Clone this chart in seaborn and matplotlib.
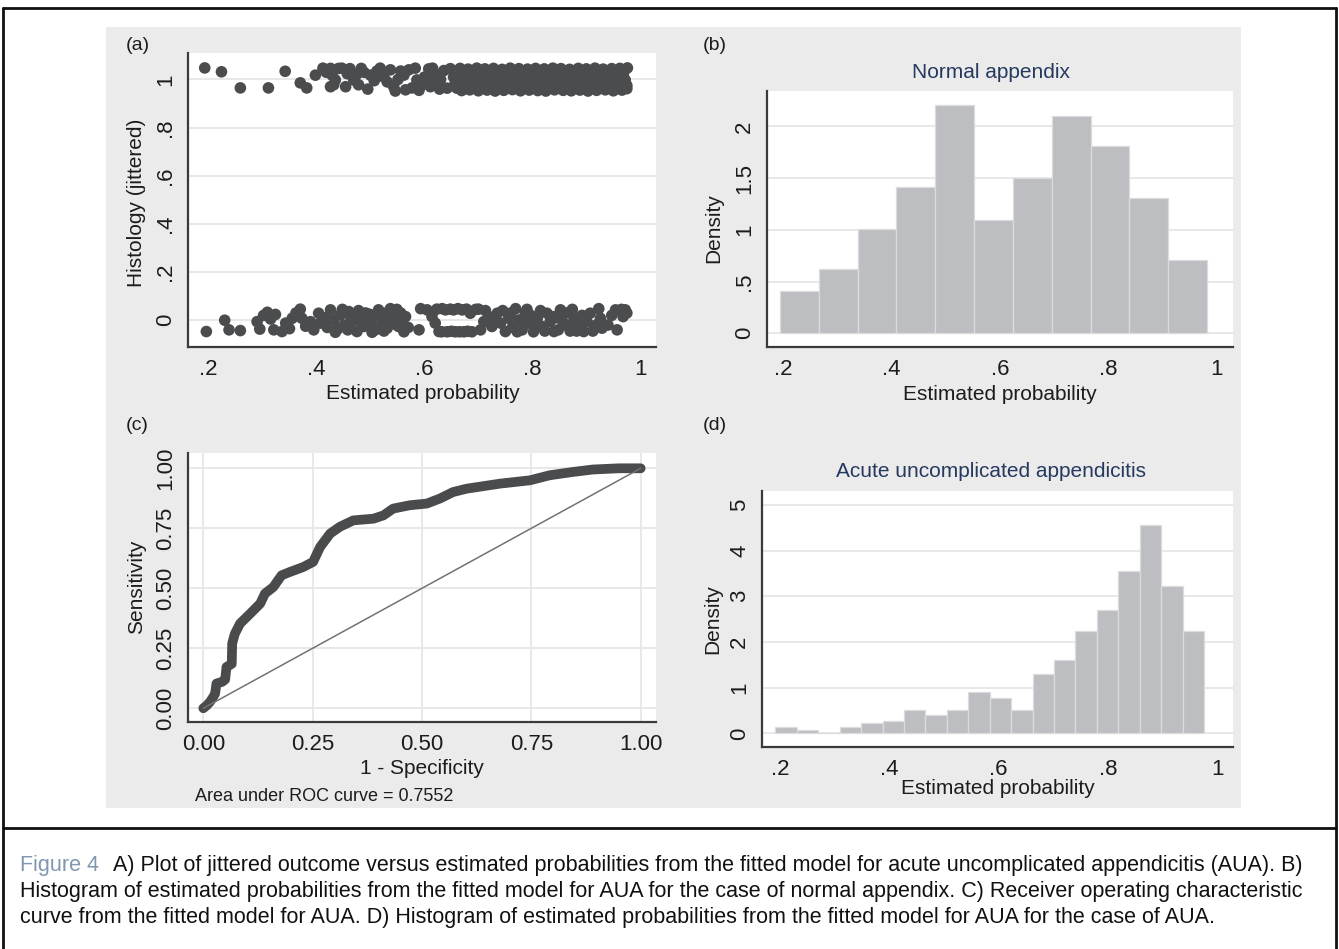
import numpy as np
import pandas as pd
import matplotlib
matplotlib.use('Agg')
import matplotlib.pyplot as plt
import seaborn as sns
from matplotlib.patches import Rectangle
from matplotlib.lines import Line2D

# ---- data ----
# (a) jittered outcome vs estimated probability, outcome = 1
top_x = [0.193, 0.224, 0.259, 0.311, 0.342, 0.370, 0.382, 0.398,
         0.412, 0.426, 0.441, 0.429, 0.435, 0.426, 0.432, 0.454, 0.457, 0.469, 0.488, 0.500,
         0.478, 0.512, 0.525, 0.531, 0.543, 0.546, 0.556, 0.562, 0.565, 0.577, 0.586, 0.596,
         0.608, 0.608, 0.611, 0.620, 0.623, 0.636, 0.642, 0.654, 0.660,
         0.418, 0.447, 0.462, 0.474, 0.483, 0.495, 0.507, 0.518, 0.537, 0.551, 0.571, 0.583,
         0.600, 0.615, 0.630, 0.648, 0.657, 0.628, 0.590,
         0.666, 0.681, 0.697, 0.712, 0.728, 0.744, 0.759, 0.775, 0.791, 0.806, 0.822, 0.838,
         0.853, 0.869, 0.885, 0.900, 0.916, 0.931, 0.947, 0.962, 0.976,
         0.672, 0.688, 0.703, 0.719, 0.735, 0.750, 0.766, 0.782, 0.797, 0.813, 0.829, 0.844,
         0.860, 0.876, 0.891, 0.907, 0.922, 0.938, 0.954, 0.969,
         0.674, 0.692, 0.708, 0.724, 0.739, 0.755, 0.770, 0.786, 0.801, 0.817, 0.833, 0.848,
         0.864, 0.880, 0.895, 0.911, 0.926, 0.942, 0.957, 0.972,
         0.664, 0.679, 0.695, 0.710, 0.726, 0.742, 0.757, 0.773, 0.789, 0.804, 0.820, 0.835,
         0.851, 0.867, 0.882, 0.898, 0.913, 0.929, 0.945, 0.960, 0.975,
         0.669, 0.684, 0.700, 0.716, 0.731, 0.747, 0.763, 0.778, 0.794, 0.810, 0.825, 0.841,
         0.857, 0.872, 0.888, 0.903, 0.919, 0.935, 0.950, 0.966, 0.975]
top_y = [1.048, 1.032, 0.965, 0.965, 1.034, 0.986, 0.965, 1.018,
         1.047, 1.046, 1.046, 1.018, 0.998, 0.970, 0.978, 0.970, 1.024, 0.998, 1.030, 1.018,
         0.978, 1.035, 1.010, 0.990, 0.970, 0.952, 1.035, 1.018, 0.957, 0.965, 0.998, 0.978,
         1.044, 1.005, 0.970, 1.024, 0.984, 1.037, 0.964, 1.010, 0.964,
         1.030, 1.047, 1.045, 1.020, 1.046, 0.960, 0.995, 1.047, 1.040, 1.000, 1.040, 1.047,
         1.010, 1.047, 1.000, 1.045, 0.985, 0.960, 0.955,
         1.046, 1.043, 1.047, 1.044, 1.046, 1.042, 1.047, 1.045, 1.043, 1.046, 1.044, 1.047,
         1.045, 1.042, 1.046, 1.044, 1.047, 1.043, 1.045, 1.046, 1.048,
         1.022, 1.026, 1.024, 1.020, 1.027, 1.023, 1.025, 1.021, 1.024, 1.026, 1.022, 1.024,
         1.027, 1.021, 1.025, 1.023, 1.026, 1.020, 1.024, 1.027,
         1.000, 0.998, 1.002, 0.999, 1.001, 0.997, 1.003, 1.000, 0.998, 1.002, 1.000, 0.999,
         1.001, 0.998, 1.003, 1.000, 0.999, 1.002, 1.000, 0.998,
         0.977, 0.980, 0.975, 0.978, 0.981, 0.976, 0.978, 0.979, 0.974, 0.978, 0.977, 0.981,
         0.976, 0.979, 0.975, 0.980, 0.978, 0.976, 0.980, 0.977, 0.975,
         0.954, 0.957, 0.953, 0.956, 0.952, 0.955, 0.958, 0.953, 0.956, 0.954, 0.952, 0.957,
         0.955, 0.953, 0.956, 0.952, 0.955, 0.957, 0.953, 0.956, 0.962]

# outcome = 0
bot_x = [0.196, 0.230, 0.238, 0.259, 0.290, 0.295, 0.309, 0.321, 0.324, 0.336, 0.343, 0.355,
         0.370, 0.373, 0.389, 0.395, 0.404, 0.407, 0.426, 0.432, 0.435, 0.444, 0.451, 0.460,
         0.466, 0.475, 0.481, 0.488, 0.494, 0.503, 0.506, 0.515, 0.522, 0.528, 0.531, 0.537,
         0.540, 0.546, 0.552, 0.559, 0.562, 0.512, 0.498, 0.470, 0.590, 0.593, 0.605, 0.614,
         0.620, 0.627, 0.623, 0.639, 0.642, 0.654, 0.657, 0.670, 0.673, 0.685, 0.688, 0.700,
         0.704, 0.710, 0.719, 0.725, 0.735, 0.741, 0.750, 0.756, 0.769, 0.775, 0.781, 0.787,
         0.793, 0.802, 0.809, 0.818, 0.827, 0.833, 0.840, 0.852, 0.858, 0.867, 0.877, 0.886,
         0.895, 0.901, 0.907, 0.923, 0.926, 0.929, 0.954, 0.957, 0.972, 0.975, 0.763, 0.797,
         0.846, 0.870, 0.918,
         0.415, 0.420, 0.440, 0.448, 0.458, 0.463, 0.478, 0.484, 0.491, 0.500, 0.509, 0.518,
         0.525, 0.534, 0.543, 0.549, 0.556, 0.565, 0.570, 0.380, 0.362, 0.350, 0.315, 0.302,
         0.633, 0.648, 0.662, 0.678, 0.632, 0.650, 0.665, 0.680, 0.695, 0.713, 0.730, 0.745,
         0.760, 0.772, 0.790, 0.805, 0.815, 0.823, 0.838, 0.848, 0.862, 0.874, 0.882, 0.892,
         0.912, 0.940, 0.947, 0.965, 0.968]
bot_y = [-0.047, 0.000, -0.040, -0.043, -0.006, -0.037, 0.033, -0.040, 0.024, -0.047, -0.012, 0.008,
         0.046, 0.008, -0.006, -0.040, 0.029, -0.012, 0.043, 0.001, -0.050, 0.022, -0.020, 0.036,
         -0.006, -0.047, 0.008, -0.026, 0.001, -0.050, 0.015, 0.043, -0.006, 0.029, -0.033, 0.048,
         0.001, 0.036, -0.026, 0.001, -0.048, -0.030, 0.025, 0.020, -0.040, 0.048, 0.043, 0.015,
         -0.012, -0.047, 0.046, 0.043, -0.048, 0.043, -0.048, 0.043, -0.048, 0.029, -0.048, 0.046,
         -0.040, -0.006, 0.015, -0.026, 0.029, -0.012, -0.047, 0.008, 0.048, 0.001, -0.040, 0.029,
         -0.012, -0.048, 0.008, -0.026, 0.029, -0.006, -0.047, 0.043, -0.012, -0.026, 0.008, -0.020,
         -0.047, -0.006, 0.029, 0.048, 0.008, -0.033, 0.043, -0.040, 0.043, 0.030, -0.030, 0.020,
         0.010, -0.045, -0.020,
         0.010, -0.030, -0.035, 0.045, -0.040, 0.015, 0.040, -0.012, 0.030, -0.015, -0.040, 0.020,
         -0.045, 0.010, -0.015, 0.045, 0.030, 0.015, -0.030, -0.025, 0.030, -0.035, 0.005, 0.020,
         0.048, 0.046, 0.048, 0.046, -0.048, -0.046, -0.048, -0.046, 0.045, 0.040, 0.000, 0.040,
         0.030, -0.048, 0.045, -0.030, 0.040, -0.045, 0.015, -0.040, 0.030, 0.045, -0.045, 0.020,
         -0.045, -0.020, 0.020, 0.045, 0.015]

# (b) histogram, normal appendix (density per bin)
normal_range = (0.194, 0.982)
normal_density = [0.41, 0.62, 1.01, 1.41, 2.21, 1.10, 1.50, 2.10, 1.81, 1.31, 0.71]

# (c) ROC curve
roc_fpr = [0.0, 0.008, 0.015, 0.022, 0.027, 0.030, 0.043, 0.050, 0.053, 0.065, 0.066, 0.072,
           0.084, 0.107, 0.130, 0.141, 0.160, 0.179, 0.198, 0.229, 0.251, 0.267, 0.290, 0.312,
           0.343, 0.389, 0.412, 0.434, 0.472, 0.511, 0.541, 0.571, 0.602, 0.678, 0.747, 0.792,
           0.846, 0.891, 0.950, 1.0]
roc_tpr = [0.0, 0.012, 0.026, 0.045, 0.061, 0.103, 0.110, 0.120, 0.172, 0.185, 0.270, 0.310,
           0.353, 0.394, 0.436, 0.478, 0.505, 0.554, 0.568, 0.589, 0.610, 0.672, 0.728, 0.756,
           0.783, 0.790, 0.804, 0.832, 0.846, 0.853, 0.874, 0.901, 0.915, 0.936, 0.950, 0.971,
           0.985, 0.995, 1.0, 1.0]
auc_text = 'Area under ROC curve = 0.7552'

# (d) histogram, acute uncomplicated appendicitis
aua_range = (0.192, 0.976)
aua_density = [0.15, 0.07, 0.0, 0.14, 0.22, 0.28, 0.52, 0.41, 0.52, 0.90,
               0.77, 0.51, 1.29, 1.61, 2.25, 2.69, 3.55, 4.56, 3.22, 2.24]

caption = [
    'A) Plot of jittered outcome versus estimated probabilities from the fitted model for acute uncomplicated appendicitis (AUA). B)',
    'Histogram of estimated probabilities from the fitted model for AUA for the case of normal appendix. C) Receiver operating characteristic',
    'curve from the fitted model for AUA. D) Histogram of estimated probabilities from the fitted model for AUA for the case of AUA.',
]

# ---- styling ----
sns.set_theme(style='white')
plt.rcParams['font.family'] = ['Liberation Sans', 'DejaVu Sans']

W, H = 1339, 949
TXT = '#1c1c1c'
AXC = '#3a3a3a'
GRID = '#e8e8e8'
DARK = '#4b4c4e'
BAR = '#bdbec1'
NAVY = '#26395f'

fig = plt.figure(figsize=(W / 100, H / 100), dpi=100)
fig.patch.set_facecolor('white')


def fx(x):
    return x / W


def fy(y):
    return 1 - y / H


def panel(x0, y0, x1, y1):
    return fig.add_axes([fx(x0), fy(y1), (x1 - x0) / W, (y1 - y0) / H])


def style(ax, xt, xtl, yt, ytl, xlim, ylim, xgrid=False):
    ax.set_facecolor('white')
    ax.set_xlim(xlim)
    ax.set_ylim(ylim)
    ax.set_xticks(xt)
    ax.set_xticklabels(xtl)
    ax.set_yticks(yt)
    ax.set_yticklabels(ytl, rotation=90, va='center')
    for s in ['top', 'right']:
        ax.spines[s].set_visible(False)
    for s in ['left', 'bottom']:
        ax.spines[s].set_color(AXC)
        ax.spines[s].set_linewidth(1.6)
    ax.tick_params(axis='both', direction='out', length=5.8, width=1.3, color=AXC,
                   labelsize=16, labelcolor=TXT, pad=3)
    ax.yaxis.grid(True, color=GRID, lw=1.4)
    if xgrid:
        ax.xaxis.grid(True, color=GRID, lw=1.4)
    else:
        ax.xaxis.grid(False)
    ax.set_axisbelow(True)


def labels(ax, xl, xpos, yl, ypos):
    ax.set_xlabel(xl, fontsize=15, color=TXT)
    ax.set_ylabel(yl, fontsize=15, color=TXT)
    ax.xaxis.set_label_coords(*xpos)
    ax.yaxis.set_label_coords(*ypos)
    ax.xaxis.label.set_va('center')
    ax.yaxis.label.set_va('center')


def hist(ax, rng, dens):
    edges = np.linspace(rng[0], rng[1], len(dens) + 1)
    df = pd.DataFrame({'p': (edges[:-1] + edges[1:]) / 2, 'd': dens})
    sns.histplot(data=df, x='p', weights='d', bins=edges.tolist(), color=BAR,
                 edgecolor='#dcdcde', linewidth=0.9, alpha=1, ax=ax, zorder=2)


# gray graph region
fig.add_artist(Rectangle((fx(106), fy(808)), (1241 - 106) / W, (808 - 27) / H,
                         transform=fig.transFigure, facecolor='#ebebeb',
                         edgecolor='none', zorder=-10))

prob_ticks = [0.2, 0.4, 0.6, 0.8, 1.0]
prob_labels = ['.2', '.4', '.6', '.8', '1']

# (a)
ax_a = panel(188, 53, 656, 346.7)
jit = pd.DataFrame({'p': top_x + bot_x, 'h': top_y + bot_y})
sns.scatterplot(data=jit, x='p', y='h', s=70, color=DARK,
                edgecolor='none', linewidth=0, ax=ax_a, zorder=3)
style(ax_a, prob_ticks, prob_labels, [0, 0.2, 0.4, 0.6, 0.8, 1.0],
      ['0', '.2', '.4', '.6', '.8', '1'], (0.162, 1.029), (-0.11, 1.11))
labels(ax_a, 'Estimated probability', (0.502, -0.158), 'Histology (jittered)', (-0.11, 0.49))

# (b)
ax_b = panel(767, 91, 1233, 346.7)
hist(ax_b, normal_range, normal_density)
style(ax_b, prob_ticks, prob_labels, [0, 0.5, 1, 1.5, 2], ['0', '.5', '1', '1.5', '2'],
      (0.170, 1.030), (-0.13, 2.343))
labels(ax_b, 'Estimated probability', (0.5, -0.185), 'Density', (-0.115, 0.463))

# (c)
ax_c = panel(188, 452.7, 656, 721.7)
roc = pd.DataFrame({'fpr': roc_fpr, 'tpr': roc_tpr})
sns.lineplot(data=roc, x='fpr', y='tpr', sort=False, estimator=None, color='#4a4b4d',
             linewidth=7, solid_capstyle='round', solid_joinstyle='round', ax=ax_c, zorder=3)
sns.lineplot(x=[0, 1], y=[0, 1], color='#727272', linewidth=1.1, ax=ax_c, zorder=4)
roc_ticks = [0, 0.25, 0.5, 0.75, 1.0]
roc_labels = ['0.00', '0.25', '0.50', '0.75', '1.00']
style(ax_c, roc_ticks, roc_labels, roc_ticks, roc_labels, (-0.035, 1.035), (-0.056, 1.065),
      xgrid=True)
labels(ax_c, '1 - Specificity', (0.5, -0.173), 'Sensitivity', (-0.11, 0.5))

# (d)
ax_d = panel(762.3, 490.7, 1233, 746.7)
hist(ax_d, aua_range, aua_density)
style(ax_d, prob_ticks, prob_labels, [0, 1, 2, 3, 4, 5], ['0', '1', '2', '3', '4', '5'],
      (0.168, 1.029), (-0.29, 5.31))
labels(ax_d, 'Estimated probability', (0.5, -0.1625), 'Density', (-0.1045, 0.5))

# panel letters, titles, note
for lab, x, y in [('(a)', 126, 45), ('(b)', 703, 45), ('(c)', 126, 425), ('(d)', 703, 425)]:
    fig.text(fx(x), fy(y), lab, fontsize=14, color=TXT, ha='left', va='center')
fig.text(fx(991.5), fy(73), 'Normal appendix', fontsize=15, color=NAVY, ha='center', va='center')
fig.text(fx(991.5), fy(471.7), 'Acute uncomplicated appendicitis', fontsize=15, color=NAVY,
         ha='center', va='center')
fig.text(fx(195), fy(796.7), auc_text, fontsize=13, color=TXT, ha='left', va='center')

# frame and caption
for xs, ys in [([3, 1336], [8, 8]), ([3, 3], [8, 949]), ([1336, 1336], [8, 949]),
               ([3, 1336], [828, 828])]:
    fig.add_artist(Line2D([fx(v) for v in xs], [fy(v) for v in ys],
                          transform=fig.transFigure, color='#111111', lw=2))

fig.text(fx(20), fy(866), 'Figure 4', fontsize=15.5, color='#8196b0', ha='left', va='center')
fig.text(fx(113), fy(866), caption[0], fontsize=15.5, color='#111111', ha='left', va='center')
fig.text(fx(20), fy(892), caption[1], fontsize=15.5, color='#111111', ha='left', va='center')
fig.text(fx(20), fy(918), caption[2], fontsize=15.5, color='#111111', ha='left', va='center')

fig.savefig('out.png', dpi=100)
